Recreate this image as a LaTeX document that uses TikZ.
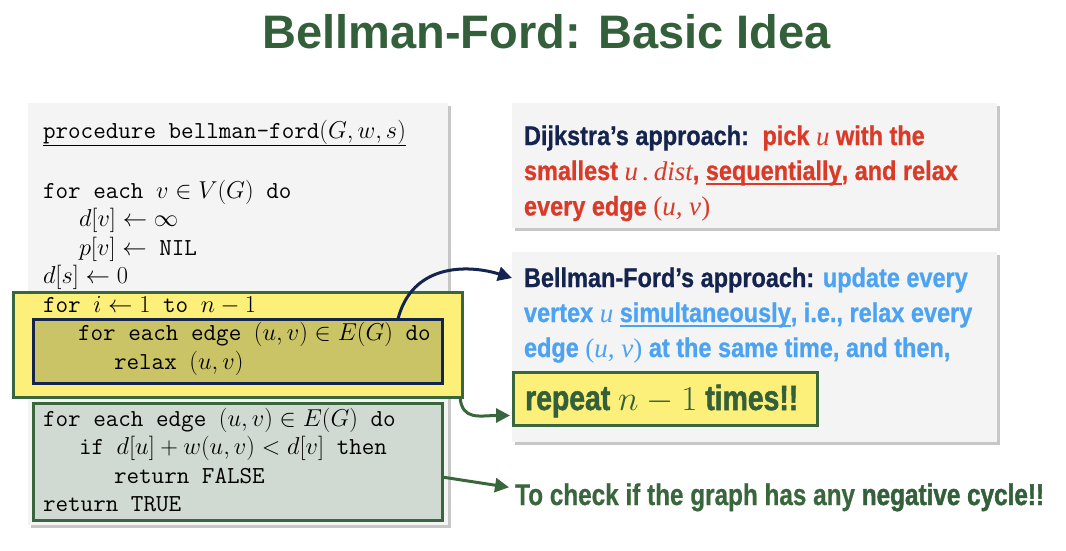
\RequirePackage{fix-cm}
\documentclass[tikz,border=0pt]{standalone}
\usepackage{fontspec}
\usetikzlibrary{shadows,arrows.meta}
\newfontfamily\hvfont{Liberation Sans}
\newfontfamily\cfont[FakeStretch=0.87,FakeBold=0.8]{Liberation Sans}
\newfontfamily\bcfont[FakeStretch=0.81,FakeBold=0.6]{Liberation Sans}
\newfontfamily\bcbfont[FakeStretch=0.81,FakeBold=1.4]{Liberation Sans}
\newfontfamily\tmfont{Liberation Serif}
\definecolor{panelgray}{HTML}{F4F4F4}
\definecolor{yelfill}{HTML}{FCF07A}
\definecolor{olivefill}{HTML}{CAC466}
\definecolor{navyc}{HTML}{15244F}
\definecolor{greenc}{HTML}{3A663D}
\definecolor{ggfill}{HTML}{D0DAD2}
\definecolor{redt}{HTML}{D93B28}
\definecolor{bluet}{HTML}{4BA3F2}
\definecolor{titleg}{HTML}{33603A}
\newcommand\codefont{\fontsize{24.4}{28}\selectfont\ttfamily}
\newcommand\rfont{\fontsize{27}{32}\selectfont\cfont\bfseries}
\newcommand\rmi[1]{{\tmfont\mdseries\itshape #1}}
\newcommand\rmpar[1]{{\tmfont\mdseries(\itshape #1\upshape)}}
\newcommand\thul[1]{\leavevmode\setbox0\hbox{#1}\rlap{\rule[-4.5pt]{\wd0}{2pt}}\box0}
\tikzset{
  code/.style={anchor=base west, inner sep=0pt, outer sep=0pt, font=\codefont},
  rtext/.style={anchor=base west, inner sep=0pt, outer sep=0pt, font=\rfont},
  panelbox/.style={fill=panelgray, anchor=north west, inner sep=0pt, outer sep=0pt,
    drop shadow={shadow xshift=3pt, shadow yshift=-3pt, opacity=0.4, fill=black!55}},
  hlbox/.style={anchor=north west, inner sep=0pt, outer sep=0pt, line width=3pt},
  arr/.style={line width=3pt, -{Triangle[length=14pt,width=14pt]}},
}
\begin{document}
\begin{tikzpicture}[x=1pt,y=-1pt]
\fill[white] (0,0) rectangle (1066,550);
\useasboundingbox (0,0) rectangle (1066,550);

% title
\node[anchor=base, inner sep=0pt, text=titleg, font=\fontsize{47}{52}\selectfont\hvfont\bfseries] (title) at (546.5,48) {Bellman-Ford: Basic Idea};

% left panel
\node[panelbox, minimum width=420pt, minimum height=422pt] (left) at (28,103) {};
\node[hlbox, fill=yelfill, draw=greenc, minimum width=449pt, minimum height=105pt] (yel) at (13,292) {};
\node[hlbox, fill=olivefill, draw=navyc, minimum width=409pt, minimum height=64pt] (olive) at (33,319) {};
\node[hlbox, fill=ggfill, draw=greenc, minimum width=409pt, minimum height=117pt] (gg) at (33,403) {};

\node[code] (c0) at (43,138) {\underline{procedure bellman-ford$(G, w, s)$}};
\node[code] (c1) at (43,198) {for each $v \in V(G)$ do};
\node[code] (c2) at (79,226.5) {$d[v] \leftarrow \infty$};
\node[code] (c3) at (79,255) {$p[v] \leftarrow$ NIL};
\node[code] (c4) at (43,283.5) {$d[s] \leftarrow 0$};
\node[code] (c5) at (43,312) {for $i \leftarrow 1$ to $n-1$};
\node[code] (c6) at (78,340.5) {for each edge\ $(u,v) \in E(G)$\ do};
\node[code] (c7) at (114,369) {relax\ $(u,v)$};
\node[code] (c8) at (43,426) {for each edge\ $(u,v) \in E(G)$\ do};
\node[code] (c9) at (79,454.5) {if\ $d[u] + w(u,v) < d[v]$\ then};
\node[code] (c10) at (114,483) {return FALSE};
\node[code] (c11) at (43,511.5) {return TRUE};

% right panels
\node[panelbox, minimum width=485pt, minimum height=125pt] (dij) at (512,103) {};
\node[panelbox, minimum width=485pt, minimum height=190pt] (bf) at (512,252) {};

\node[rtext] (d1) at (524,145) {\color{navyc}Dijkstra’s approach:\enspace\color{redt}pick \rmi{u} with the};
\node[rtext, text=redt] (d2) at (524,180) {smallest \rmi{u\,.\,dist}, \thul{sequentially}, and relax};
\node[rtext, text=redt] (d3) at (524,215.5) {every edge \rmpar{u, v}};

\node[rtext] (b1) at (524,287) {\color{navyc}Bellman-Ford’s approach: \color{bluet}update every};
\node[rtext, text=bluet] (b2) at (524,322) {vertex \rmi{u} \thul{simultaneously}, i.e., relax every};
\node[rtext, text=bluet] (b3) at (524,357) {edge \rmpar{u, v} at the same time, and then,};

\node[hlbox, fill=yelfill, draw=greenc, minimum width=304pt, minimum height=53pt] (rep) at (513,372) {};
\node[anchor=base west, inner sep=0pt, text=titleg, font=\fontsize{35}{40}\selectfont\bcbfont\bfseries] (reptxt) at (525,410) {repeat $n-1$ times!!};

\node[anchor=base west, inner sep=0pt, text=greenc, font=\fontsize{30}{34}\selectfont\bcfont\bfseries] (chk) at (515,505) {To check if the graph has any {\bcbfont\color{titleg}negative cycle!!}};

% arrows
\draw[arr, navyc] ([xshift=-44pt]olive.north east) .. controls +(14,-55) and +(-45,-14) .. ([xshift=-12pt,yshift=2pt]b1.west);
\draw[arr, greenc] ([xshift=-2pt]yel.south east) .. controls +(2,24) and +(-30,0) .. ([xshift=-3pt,yshift=-17pt]rep.west);
\draw[arr, greenc] ([yshift=-15.5pt]gg.east) -- ([xshift=-6pt,yshift=10pt]chk.west);
\end{tikzpicture}
\end{document}
